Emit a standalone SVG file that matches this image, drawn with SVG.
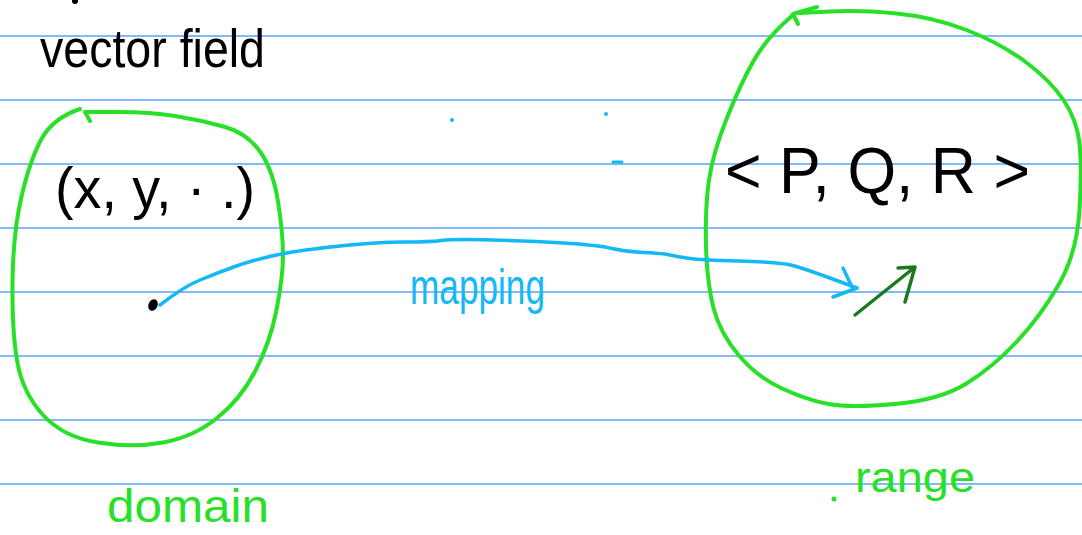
<svg xmlns="http://www.w3.org/2000/svg" width="1082" height="535" viewBox="0 0 1082 535">
  <style>
    .rule { stroke: #55a6f4; stroke-width: 1.5; }
    .ink { font-family: "Liberation Sans", "DejaVu Sans", sans-serif; }
    .black { fill: #000; }
    .green { fill: #27e027; }
    .blue { fill: #14b8f6; }
    .loop { fill: none; stroke: #27e027; stroke-width: 4; stroke-linecap: round; stroke-linejoin: round; }
    .map { fill: none; stroke: #14b8f6; stroke-width: 3.5; stroke-linecap: round; stroke-linejoin: round; }
    .vec { fill: none; stroke: #1b7a1b; stroke-width: 3.5; stroke-linecap: round; stroke-linejoin: round; }
  </style>
  <rect width="1082" height="535" fill="#fff"/>
  <g id="ruled-lines">
    <line class="rule" x1="0" y1="36" x2="1082" y2="36"/>
    <line class="rule" x1="0" y1="100" x2="1082" y2="100"/>
    <line class="rule" x1="0" y1="164" x2="1082" y2="164"/>
    <line class="rule" x1="0" y1="228" x2="1082" y2="228"/>
    <line class="rule" x1="0" y1="292" x2="1082" y2="292"/>
    <line class="rule" x1="0" y1="356" x2="1082" y2="356"/>
    <line class="rule" x1="0" y1="420" x2="1082" y2="420"/>
    <line class="rule" x1="0" y1="484" x2="1082" y2="484"/>
  </g>
  <g id="title">
    <ellipse cx="75" cy="1" rx="3" ry="3" fill="#000"/>
    <text class="ink black" x="40" y="67" font-size="54" textLength="225" lengthAdjust="spacingAndGlyphs">vector field</text>
  </g>
  <g id="domain">
    <path class="loop" d="M 80,109 Q 53,118 41.5,139 Q 30,160 21.5,196.5 Q 13,233 12.5,283 Q 12,333 17.5,363 Q 23,393 43,415 Q 63,437 98,442.5 Q 133,448 163,442.5 Q 193,437 216.5,418.5 Q 240,400 255,371.5 Q 270,343 276.5,310 Q 283,277 283,255 Q 283,233 278,201.5 Q 273,170 260,151.5 Q 247,133 223.5,126.5 Q 200,120 175,116 Q 150,112 117.5,112 L 85,112 L 90,121"/>
    <text class="ink black" x="55" y="208" font-size="58" textLength="200" lengthAdjust="spacingAndGlyphs">(x, y, · .)</text>
    <ellipse cx="153" cy="305" rx="4.5" ry="6" transform="rotate(25 153 305)" fill="#000"/>
    <text class="ink green" x="107" y="522" font-size="46" textLength="162" lengthAdjust="spacingAndGlyphs">domain</text>
  </g>
  <g id="range">
    <path class="loop" d="M 793,15 Q 767,37 753.5,61 Q 740,85 726.5,119 Q 713,153 709,180 Q 705,207 706,245 Q 707,283 713.5,308 Q 720,333 738.5,355 Q 757,377 782,388.5 Q 807,400 828.5,404 Q 850,408 895,404 Q 940,400 966.5,383.5 Q 993,367 1016.5,342 Q 1040,317 1058.5,285 Q 1077,253 1079.5,210 Q 1082,167 1079.5,143.5 Q 1077,120 1063.5,100 Q 1050,80 1025,61.5 Q 1000,43 966.5,30 Q 933,17 896.5,13.5 Q 860,10 830,11.5 L 800,13"/>
    <path class="loop" d="M 817,7 L 793,14 L 798,24"/>
    <text class="ink black" x="725" y="193" font-size="64" textLength="305" lengthAdjust="spacingAndGlyphs">&lt; P, Q, R &gt;</text>
    <path class="vec" d="M 855,315 L 915,267 M 898,268 L 915,267 L 905,302"/>
    <circle cx="834" cy="499" r="2.5" fill="#27e027"/>
    <text class="ink green" x="855" y="492" font-size="42" textLength="120" lengthAdjust="spacingAndGlyphs">range</text>
  </g>
  <g id="connectors">
    <path class="map" d="M 160,305 Q 183,287 200,280 Q 217,273 235,266.5 Q 253,260 276.5,255 Q 300,250 340,246 Q 380,242 405,242 Q 430,242 441.5,240.5 Q 453,239 491.5,240 Q 530,241 563.5,243 Q 597,245 612,248.5 Q 627,252 643.5,252.5 Q 660,253 670,255 Q 680,257 690,258.5 Q 700,260 738.5,261 Q 777,262 788.5,264.5 Q 800,267 828.5,277.5 L 857,288"/>
    <path class="map" d="M 843,268 L 853,289 M 833,297 L 857,288"/>
    <text class="ink blue" x="410" y="304" font-size="50" textLength="135" lengthAdjust="spacingAndGlyphs">mapping</text>
  </g>
  <g id="stray-marks">
    <circle cx="452" cy="120" r="2" fill="#14b8f6"/>
    <circle cx="606" cy="114" r="2" fill="#14b8f6"/>
    <line x1="613" y1="162" x2="622" y2="162" stroke="#14b8f6" stroke-width="3" stroke-linecap="round"/>
  </g>
</svg>
